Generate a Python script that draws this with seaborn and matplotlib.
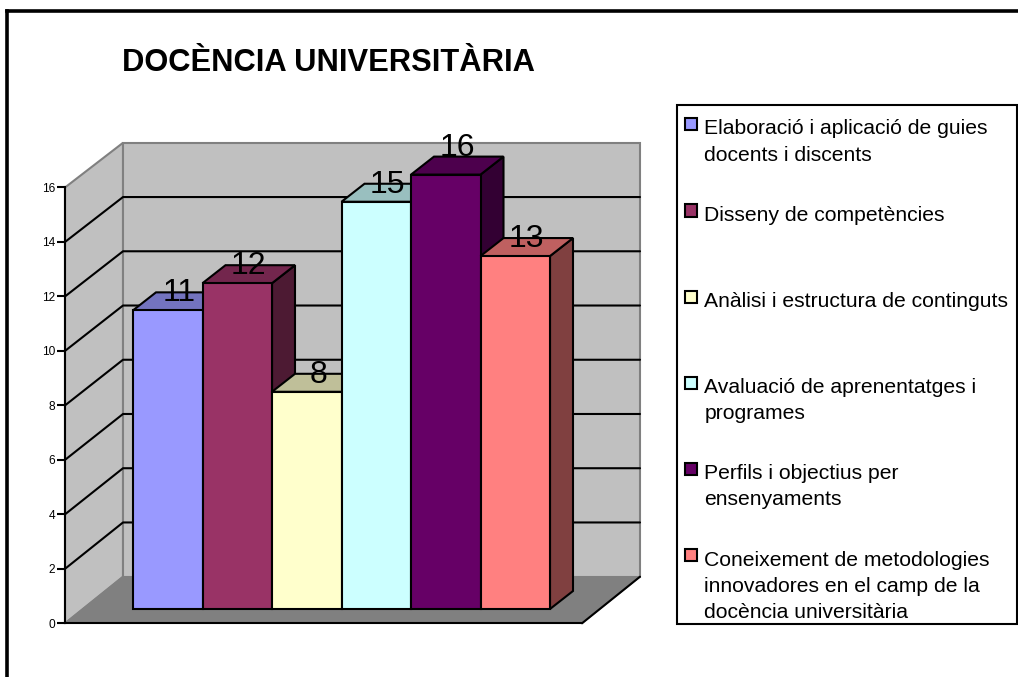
import numpy as np
import pandas as pd
import seaborn as sns
import matplotlib
matplotlib.use("Agg")
import matplotlib.pyplot as plt
from matplotlib.patches import Polygon, Rectangle
from matplotlib.lines import Line2D
from matplotlib.legend_handler import HandlerPatch

title = "DOCÈNCIA UNIVERSITÀRIA"
categories = [
    "Elaboració i aplicació de guies\ndocents i discents",
    "Disseny de competències",
    "Anàlisi i estructura de continguts",
    "Avaluació de aprenentatges i\nprogrames",
    "Perfils i objectius per\nensenyaments",
    "Coneixement de metodologies\ninnovadores en el camp de la\ndocència universitària",
]
values = [11, 12, 8, 15, 16, 13]
colors = ["#9999FF", "#993366", "#FFFFCC", "#CCFFFF", "#660066", "#FF8080"]
yticks = [0, 2, 4, 6, 8, 10, 12, 14, 16]

W, H = 1018, 677
sns.set_theme(style="white")
plt.rcParams["font.family"] = ["Liberation Sans", "DejaVu Sans"]
fig = plt.figure(figsize=(W / 100, H / 100), dpi=100, facecolor="white")


def px_axes(x0, x1, y_bottom, y_top, **kw):
    return fig.add_axes([x0 / W, 1 - y_bottom / H, (x1 - x0) / W, (y_bottom - y_top) / H], **kw)


LW = 1.5
# ---- walls and floor
ax_w = px_axes(65, 582, 623.3, 187.5, facecolor="none", zorder=1)
ax_w.set_xlim(0, 517)
ax_w.set_ylim(0, 16)
unit = (623.3 - 187.5) / 16
depth_x = 58.0


def depth_y(v):
    return (46.6 - 1.9 * v / 16) / unit


wall = dict(facecolor="#C0C0C0", edgecolor="#808080", lw=LW, clip_on=False, zorder=1)
ax_w.add_patch(Polygon([(0, 0), (depth_x, depth_y(0)), (depth_x, 16 + depth_y(16)), (0, 16)], **wall))
ax_w.add_patch(Polygon([(depth_x, depth_y(0)), (depth_x + 517, depth_y(0)),
                        (depth_x + 517, 16 + depth_y(16)), (depth_x, 16 + depth_y(16))], **wall))
ax_w.add_patch(Polygon([(0, 0), (517, 0), (517 + depth_x, depth_y(0)), (depth_x, depth_y(0))],
                       facecolor="#808080", edgecolor="#808080", lw=1, clip_on=False, zorder=2))
ax_w.plot([517, 517 + depth_x], [0, depth_y(0)], color="black", lw=LW, clip_on=False, zorder=3)
for v in yticks[1:-1]:
    b = v + depth_y(v)
    ax_w.plot([0, depth_x, depth_x + 517], [v, b, b], color="black", lw=LW, clip_on=False, zorder=3)
ax_w.set_xticks([])
ax_w.set_yticks(yticks)
ax_w.tick_params(axis="y", left=True, length=6, width=LW, color="black", labelsize=8.6, pad=1, labelcolor="black")
for s in ["top", "right"]:
    ax_w.spines[s].set_visible(False)
for s in ["left", "bottom"]:
    ax_w.spines[s].set_color("black")
    ax_w.spines[s].set_linewidth(LW)
    ax_w.spines[s].set_zorder(5)

# ---- bars
ax = px_axes(133, 550, 609, 609 - 16 * 27.15, facecolor="none", zorder=2)
df = pd.DataFrame({"cat": categories, "val": values})
sns.barplot(data=df, x="cat", y="val", hue="cat", palette=colors, width=1.0, dodge=False,
            legend=False, edgecolor="black", linewidth=LW, saturation=1, ax=ax)
ax.set_xlim(-0.5, 5.5)
ax.set_ylim(0, 16)
ax.set_axis_off()

bar_w_px = (550 - 133) / 6
dx = 23 / bar_w_px
dy = 18 / 27.15


def shade(c, f):
    r, g, b = matplotlib.colors.to_rgb(c)
    return (r * f, g * f, b * f)


for i, (bar, v, c) in enumerate(zip(ax.patches, values, colors)):
    x0, x1 = bar.get_x(), bar.get_x() + bar.get_width()
    edge = dict(edgecolor="black", lw=LW, clip_on=False, joinstyle="miter")
    ax.add_patch(Polygon([(x1, 0), (x1 + dx, dy), (x1 + dx, v + dy), (x1, v)],
                         facecolor=shade(c, 0.5), zorder=10 + 3 * i, **edge))
    ax.add_patch(Polygon([(x0, v), (x0 + dx, v + dy), (x1 + dx, v + dy), (x1, v)],
                         facecolor=shade(c, 0.75), zorder=11 + 3 * i, **edge))
    bar.set_zorder(12 + 3 * i)
    bar.set_clip_on(False)
    # the label of the tallest bar sits a little higher than the others
    lift = 0.36 if v == max(values) else 0.0
    ax.text((x0 + x1) / 2 + dx / 2, v + dy + lift - 0.03, str(v), ha="center", va="center",
            fontsize=23, color="black", zorder=50, clip_on=False)

# ---- title
fig.text(122 / W, 1 - 71 / H, title, fontsize=22.2, fontweight="bold", color="black", ha="left", va="baseline")

# ---- outer frame (runs off the right and bottom edges)
frame = dict(color="black", lw=2.6, transform=fig.transFigure, solid_capstyle="projecting")
fig.add_artist(Line2D([6.5 / W, 6.5 / W], [0, 1 - 10.5 / H], **frame))
fig.add_artist(Line2D([6.5 / W, 1], [1 - 10.5 / H, 1 - 10.5 / H], **frame))

# ---- legend box
fig.add_artist(Rectangle((677 / W, 1 - 624 / H), 340 / W, 519 / H, transform=fig.transFigure,
                         facecolor="white", edgecolor="black", lw=LW, zorder=1))


# ---- legend: every label takes three lines, marker sits on the first line
def first_line_marker(legend, orig_handle, xdescent, ydescent, width, height, fontsize):
    return Rectangle((-xdescent, -ydescent + 23.2), 8.8, 8.8)


handles = [Rectangle((0, 0), 1, 1, facecolor=c, edgecolor="black", lw=LW) for c in colors]
labels = [c + "\n" * (2 - c.count("\n")) for c in categories]
leg = fig.legend(handles, labels, loc="upper left", bbox_to_anchor=(685 / W, 1 - 119.5 / H),
                 bbox_transform=fig.transFigure, borderaxespad=0, borderpad=0, frameon=False,
                 fontsize=15.2, labelspacing=0.716, handlelength=0.57, handletextpad=0.34,
                 handler_map={Rectangle: HandlerPatch(patch_func=first_line_marker)})
leg.set_zorder(2)
for t in leg.get_texts():
    t.set_linespacing(1.47)
    t.set_color("black")

fig.savefig("out.png", dpi=100, facecolor="white")
